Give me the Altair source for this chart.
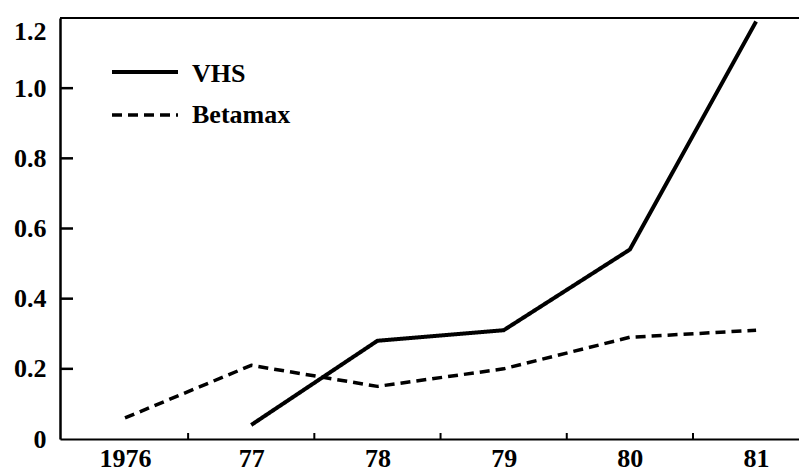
import altair as alt
import pandas as pd

# ---- data ----
years = ["1976", "77", "78", "79", "80", "81"]
vhs = [None, 0.04, 0.28, 0.31, 0.54, 1.19]
betamax = [0.06, 0.21, 0.15, 0.20, 0.29, 0.31]
series = ["VHS", "Betamax"]
y_ticks = [0, 0.2, 0.4, 0.6, 0.8, 1.0, 1.2]
y_inner_ticks = [0.2, 0.4, 0.6, 0.8, 1.0]
x_between_ticks = [0.5, 1.5, 2.5, 3.5, 4.5]

rows = []
for i, yr in enumerate(years):
    if vhs[i] is not None:
        rows.append({"idx": i, "year": yr, "series": "VHS", "value": vhs[i]})
    if betamax[i] is not None:
        rows.append({"idx": i, "year": yr, "series": "Betamax", "value": betamax[i]})
df = pd.DataFrame(rows)

# ---- layout ----
W, H = 739, 421
X_MIN, X_MAX = -0.515, 5.34
FONT = "Liberation Serif"
FS = 26

xscale = alt.Scale(domain=[X_MIN, X_MAX], nice=False, zero=False)
yscale = alt.Scale(domain=[0, 1.2], nice=False, zero=True)

label_arr = "[" + ",".join("'%s'" % y for y in years) + "]"

xaxis = alt.Axis(
    values=list(range(len(years))),
    labelExpr=label_arr + "[datum.value]",
    title=None, grid=False, ticks=False, tickSize=0,
    domainColor="black", domainWidth=2,
    labelFont=FONT, labelFontSize=FS, labelFontWeight="bold", labelColor="black",
    labelPadding=6, labelFlush=False, labelOverlap=False,
)
yaxis = alt.Axis(
    values=y_ticks,
    labelExpr="datum.value == 0 ? '0' : format(datum.value, '.1f')",
    title=None, grid=False, ticks=False, tickSize=0,
    domainColor="black", domainWidth=2.5,
    labelFont=FONT, labelFontSize=FS, labelFontWeight="bold", labelColor="black",
    labelBaseline={"condition": {"test": "datum.value >= 1.2", "value": "top"}, "value": "middle"},
    labelPadding=14, labelFlush=False, labelOverlap=False,
)

lines = alt.Chart(df).mark_line(color="black", strokeCap="butt", strokeJoin="round").encode(
    x=alt.X("idx:Q", scale=xscale, axis=xaxis),
    y=alt.Y("value:Q", scale=yscale, axis=yaxis),
    detail="series:N",
    strokeDash=alt.StrokeDash("series:N", scale=alt.Scale(domain=series, range=[[1, 0], [10, 6]]), legend=None),
    strokeWidth=alt.StrokeWidth("series:N", scale=alt.Scale(domain=series, range=[4, 3.5]), legend=None),
)

top_frame = alt.Chart(pd.DataFrame({"y": [1.2]})).mark_rule(color="black", strokeWidth=2).encode(
    x=alt.datum(X_MIN), x2=alt.datum(X_MAX), y="y:Q"
)

y_ticks_in = alt.Chart(pd.DataFrame({"t": y_inner_ticks})).mark_rule(color="black", strokeWidth=2.5).encode(
    y="t:Q", x=alt.value(0), x2=alt.value(13)
)

x_ticks_in = alt.Chart(pd.DataFrame({"t": x_between_ticks})).mark_rule(color="black", strokeWidth=2).encode(
    x="t:Q", y=alt.value(H), y2=alt.value(H - 6)
)

# ---- manual legend ----
leg_vhs = pd.DataFrame({"series": ["VHS"]})
leg_beta = pd.DataFrame({"series": ["Betamax"]})
leg_line_vhs = alt.Chart(leg_vhs).mark_rule(color="black", strokeWidth=4).encode(
    x=alt.value(52), x2=alt.value(118), y=alt.value(54)
)
leg_line_beta = alt.Chart(leg_beta).mark_rule(color="black", strokeWidth=3.5, strokeDash=[10, 6]).encode(
    x=alt.value(52), x2=alt.value(118), y=alt.value(97)
)
leg_text_vhs = alt.Chart(leg_vhs).mark_text(
    font=FONT, fontSize=26, fontWeight="bold", color="black", align="left", baseline="middle"
).encode(x=alt.value(132), y=alt.value(56), text="series:N")
leg_text_beta = alt.Chart(leg_beta).mark_text(
    font=FONT, fontSize=26, fontWeight="bold", color="black", align="left", baseline="middle"
).encode(x=alt.value(132), y=alt.value(97), text="series:N")

chart = alt.layer(
    top_frame, y_ticks_in, x_ticks_in, lines,
    leg_line_vhs, leg_line_beta, leg_text_vhs, leg_text_beta,
).properties(
    width=W, height=H,
    autosize=alt.AutoSizeParams(type="none"),
    padding={"left": 52, "top": 10, "right": 0, "bottom": 35},
).configure_view(stroke=None).configure(background="white")

chart.save("out.html", embed_options={"renderer": "svg", "actions": False})
